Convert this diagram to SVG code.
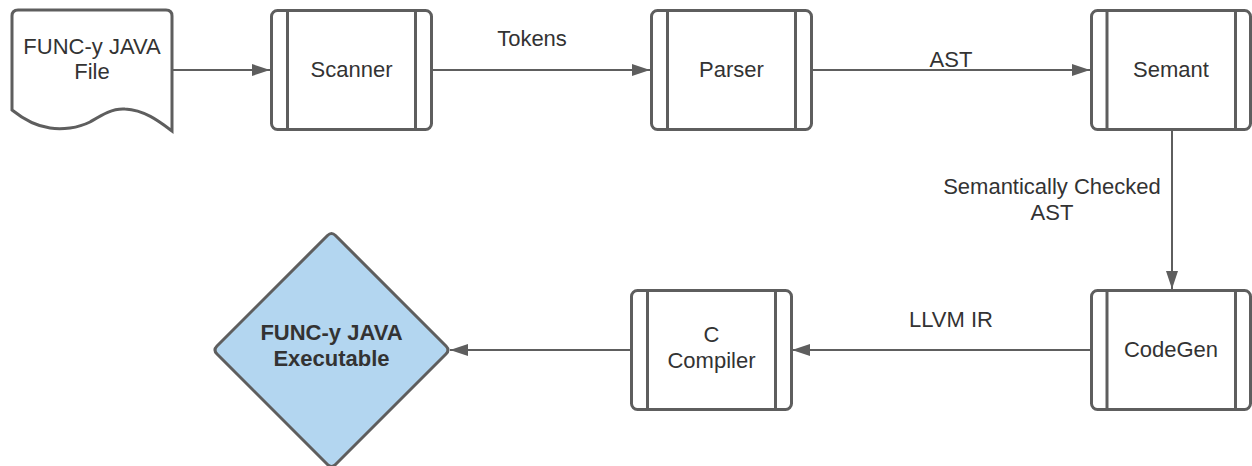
<svg xmlns="http://www.w3.org/2000/svg" width="1252" height="466" viewBox="0 0 1252 466">
<defs>
<style>
.box{fill:#fff;stroke:#5e5e5e;stroke-width:3}
.bar{stroke:#5e5e5e;stroke-width:3}
.t{font-family:"Liberation Sans",Arial,sans-serif;font-size:22px;fill:#333;text-anchor:middle}
.b{font-weight:bold}
.c{fill:none;stroke:#5e5e5e;stroke-width:2}
</style>
<marker id="ah" markerWidth="18" markerHeight="12" refX="18" refY="6" orient="auto" markerUnits="userSpaceOnUse">
<path d="M0,0 L18,6 L0,12 Z" fill="#5e5e5e"/>
</marker>
</defs>
<rect width="1252" height="466" fill="#fff"/>
<g id="connectors">
<line class="c" x1="172" y1="70" x2="270" y2="70" marker-end="url(#ah)"/>
<line class="c" x1="432" y1="70" x2="650" y2="70" marker-end="url(#ah)"/>
<line class="c" x1="811" y1="70" x2="1090" y2="70" marker-end="url(#ah)"/>
<line class="c" x1="1172" y1="130" x2="1172" y2="289" marker-end="url(#ah)"/>
<line class="c" x1="1091" y1="350" x2="792" y2="350" marker-end="url(#ah)"/>
<line class="c" x1="631" y1="350" x2="450" y2="350" marker-end="url(#ah)"/>
<text class="t" x="532" y="46">Tokens</text>
<text class="t" x="951" y="67">AST</text>
<text class="t" x="1052" y="194">Semantically Checked</text>
<text class="t" x="1052" y="220">AST</text>
<text class="t" x="951" y="327">LLVM IR</text>
</g>
<g id="file">
<path class="box" d="M12,16 Q12,10 18,10 L166,10 Q172,10 172,16 L172,131 C160,122 145,110 125,109 C112,108 100,116 90,122 C78,128 62,130 50,128 C35,126 22,118 12,110 Z"/>
<text class="t" x="92" y="54">FUNC-y JAVA</text>
<text class="t" x="92" y="79">File</text>
</g>
<g id="scanner">
<rect class="box" x="271.5" y="10.5" width="160" height="119" rx="6"/>
<line class="bar" x1="287.5" y1="10.5" x2="287.5" y2="129.5"/>
<line class="bar" x1="415.5" y1="10.5" x2="415.5" y2="129.5"/>
<text class="t" x="351.5" y="77">Scanner</text>
</g>
<g id="parser">
<rect class="box" x="651.5" y="10.5" width="160" height="119" rx="6"/>
<line class="bar" x1="667.5" y1="10.5" x2="667.5" y2="129.5"/>
<line class="bar" x1="795.5" y1="10.5" x2="795.5" y2="129.5"/>
<text class="t" x="731.5" y="77">Parser</text>
</g>
<g id="semant">
<rect class="box" x="1091.5" y="10.5" width="159" height="119" rx="6"/>
<line class="bar" x1="1107" y1="10.5" x2="1107" y2="129.5"/>
<line class="bar" x1="1235.5" y1="10.5" x2="1235.5" y2="129.5"/>
<text class="t" x="1171" y="77">Semant</text>
</g>
<g id="codegen">
<rect class="box" x="1091.5" y="290.5" width="159" height="119" rx="6"/>
<line class="bar" x1="1107" y1="290.5" x2="1107" y2="409.5"/>
<line class="bar" x1="1235.5" y1="290.5" x2="1235.5" y2="409.5"/>
<text class="t" x="1171" y="357">CodeGen</text>
</g>
<g id="ccompiler">
<rect class="box" x="631.5" y="290.5" width="160" height="119" rx="6"/>
<line class="bar" x1="647.5" y1="290.5" x2="647.5" y2="409.5"/>
<line class="bar" x1="775.5" y1="290.5" x2="775.5" y2="409.5"/>
<text class="t" x="711.5" y="342">C</text>
<text class="t" x="711.5" y="368">Compiler</text>
</g>
<g id="executable">
<path d="M327.5,235.5 Q331.5,231.5 335.5,235.5 L446,346 Q450,350 446,354 L335.5,464.5 Q331.5,468.5 327.5,464.5 L217,354 Q213,350 217,346 Z" fill="#b3d6f0" stroke="#5e5e5e" stroke-width="3"/>
<text class="t b" x="331.5" y="340">FUNC-y JAVA</text>
<text class="t b" x="331.5" y="366">Executable</text>
</g>
</svg>
